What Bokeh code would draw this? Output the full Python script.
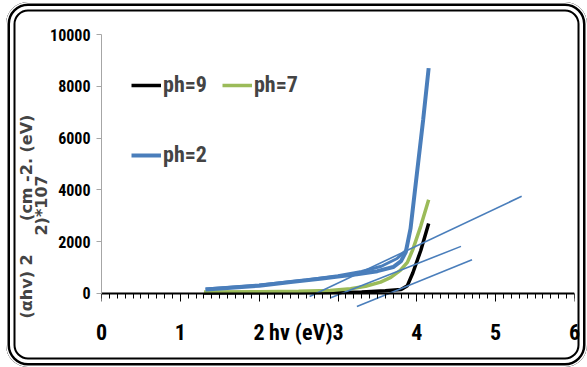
import numpy as np
from bokeh.plotting import figure
from bokeh.models import (Range1d, SingleIntervalTicker, FixedTicker, Legend, LegendItem,
                          LinearAxis)
from bokeh.embed import file_html
from bokeh.resources import INLINE

# ---- data ----
ph9_x = [1.30, 2.00, 2.80, 3.30, 3.60, 3.80, 3.88, 3.95, 4.05, 4.15]
ph9_y = [20, 25, 35, 60, 100, 150, 300, 800, 1660, 2700]

ph7_x = [1.30, 2.00, 2.50, 2.90, 3.16, 3.35, 3.54, 3.67, 3.79, 3.88, 3.95, 4.05, 4.15]
ph7_y = [60, 65, 80, 116, 180, 280, 437, 620, 890, 1200, 1700, 2600, 3620]

ph2_x = [1.32, 1.60, 2.00, 2.40, 2.80, 3.00, 3.24, 3.50, 3.70, 3.80, 3.86, 3.92, 4.00, 4.08, 4.15]
ph2_y = [150, 210, 300, 440, 580, 650, 740, 860, 1020, 1250, 1600, 2500, 4600, 6700, 8700]

# second (return) strand of the ph=2 curve
ph2b_x = [1.32, 2.00, 2.60, 3.00, 3.30, 3.55, 3.75, 3.86]
ph2b_y = [170, 330, 520, 680, 850, 1050, 1350, 1650]

# tangent (extrapolation) lines
tan_x = [[2.64, 5.33], [2.90, 4.56], [3.24, 4.70]]
tan_y = [[-116, 3752], [-180, 1818], [-500, 1300]]

x_ticks = [0, 1, 2, 3, 4, 5, 6]
y_ticks = [0, 2000, 4000, 6000, 8000, 10000]
x_title = "hv  (eV)"
x_title_pos = 2.56
y_title_1 = "(αhv) 2" + "\u00a0" * 6 + "(cm -2. (eV)"
y_title_2 = "2)*107"

BLUE = "#4a7ebb"
GREEN = "#9bbb59"
F1 = "Roboto Condensed"

p = figure(width=581, height=365, output_backend="svg", toolbar_location=None,
           x_range=Range1d(0, 6), y_range=Range1d(-620, 10000),
           min_border_left=95, min_border_right=13, min_border_top=32, min_border_bottom=58)
p.styles = {"margin-left": "6px", "margin-top": "2px", "background": "white",
            "border-radius": "22px",
            "box-shadow": ("inset 0 0 0 1.5px #fff, inset 0 0 0 4px #000, "
                           "inset 0 0 0 7.5px #fff, inset 0 0 0 9.5px #000")}
p.outline_line_color = None
p.xgrid.visible = False
p.ygrid.visible = False
p.background_fill_color = "white"
p.border_fill_color = None

# x axis line + ticks at y = 0
xa = p.xaxis[0]
xa.fixed_location = 0
xa.ticker = SingleIntervalTicker(interval=1, num_minor_ticks=10)
xa.axis_line_color = "black"
xa.axis_line_width = 2
xa.major_tick_in = 0
xa.major_tick_out = 8
xa.minor_tick_in = 0
xa.minor_tick_out = 5
xa.major_tick_line_color = "black"
xa.minor_tick_line_color = "black"
xa.major_label_text_color = None
xa.major_label_text_font_size = "1px"
xa.major_label_standoff = 0

# x tick labels (and axis title) below the frame
overrides = {x_title_pos: x_title}
xb = LinearAxis(ticker=FixedTicker(ticks=x_ticks + [x_title_pos]),
                major_label_overrides=overrides)
xb.axis_line_color = None
xb.major_tick_line_color = None
xb.minor_tick_line_color = None
xb.major_tick_in = 0
xb.major_tick_out = 0
xb.major_label_text_font = F1
xb.major_label_text_font_style = "bold"
xb.major_label_text_font_size = "22px"
xb.major_label_text_color = "black"
xb.major_label_standoff = 10
p.add_layout(xb, "below")

ya = p.yaxis[0]
ya.ticker = FixedTicker(ticks=y_ticks)
ya.bounds = (0, 10000)
ya.axis_line_color = "#a6a6a6"
ya.major_tick_in = 0
ya.major_tick_out = 5
ya.major_tick_line_color = "#a6a6a6"
ya.minor_tick_line_color = None
ya.major_label_text_font = F1
ya.major_label_text_font_style = "bold"
ya.major_label_text_font_size = "16px"
ya.major_label_text_color = "black"
ya.major_label_standoff = 6
ya.axis_label = (y_title_1 + "\u00a0" * 16) + "\n" + (y_title_2 + "\u00a0" * 12)
ya.axis_label_text_font = "DejaVu Sans"
ya.axis_label_text_font_style = "bold"
ya.axis_label_text_font_size = "16px"
ya.axis_label_text_line_height = 0.8
ya.axis_label_standoff = -4

r9 = p.line(ph9_x, ph9_y, line_color="black", line_width=3.5)
r7 = p.line(ph7_x, ph7_y, line_color=GREEN, line_width=3.5)
r2b = p.line(ph2b_x, ph2b_y, line_color=BLUE, line_width=3)
r2 = p.line(ph2_x, ph2_y, line_color=BLUE, line_width=4)
p.multi_line(tan_x, tan_y, line_color=BLUE, line_width=1.6)

leg1 = Legend(items=[LegendItem(label="ph=9", renderers=[r9]),
                     LegendItem(label="ph=7", renderers=[r7])],
              orientation="horizontal", location=(30, 212))
leg2 = Legend(items=[LegendItem(label="ph=2", renderers=[r2])],
              orientation="horizontal", location=(30, 142))
for lg in (leg1, leg2):
    lg.padding = 0
    lg.margin = 0
    lg.spacing = 15
    lg.border_line_color = None
    lg.background_fill_alpha = 0
    lg.glyph_width = 30
    lg.label_standoff = 2
    lg.label_text_font = F1
    lg.label_text_font_style = "bold"
    lg.label_text_font_size = "22px"
    lg.click_policy = "none"
    p.add_layout(lg, "center")

open("out.html", "w").write(file_html(p, INLINE))
